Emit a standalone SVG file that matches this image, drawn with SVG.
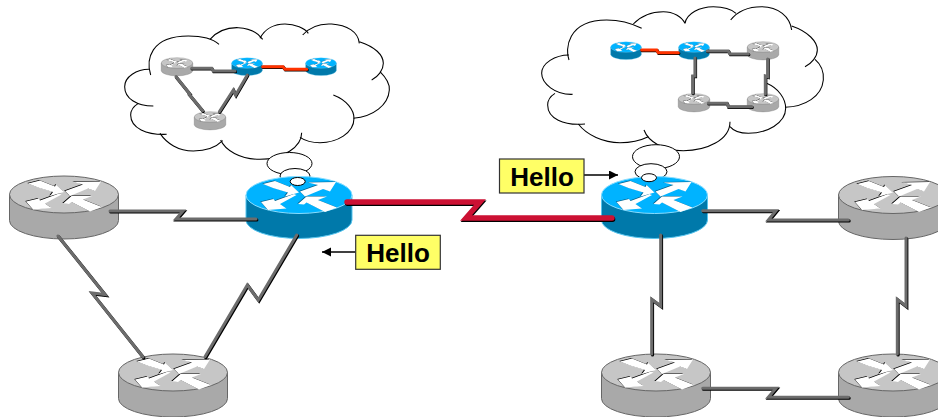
<svg xmlns="http://www.w3.org/2000/svg" width="938" height="417" viewBox="0 0 938 417">
<style>
.lo{fill:none;stroke:#000;stroke-width:3.2}
.bub{fill:#fff;stroke:#000;stroke-width:1}
.ls,.lg,.rs,.rr,.or,.os{fill:none;stroke-linejoin:miter;stroke-linecap:round}
.ls{stroke:#000;stroke-width:3.2;transform:translate(.8px,.9px)}
.lg{stroke:#6c6c6c;stroke-width:3}
.rs{stroke:#000;stroke-width:5.4;transform:translate(.6px,1.2px)}
.rr{stroke:#cc1133;stroke-width:5.4}
.os{stroke:#000;stroke-width:3.2;transform:translate(.5px,.7px)}
.or{stroke:#ff3300;stroke-width:3}
.box{fill:#ffff66;stroke:#333;stroke-width:1.2}
.t{font:bold 26px "Liberation Sans",Arial,sans-serif;fill:#000;text-anchor:middle}
.ar{stroke:#000;stroke-width:1.5;fill:none;marker-end:url(#ah)}
.gs{fill:#a9a9a9;stroke:#666;stroke-width:1}
.gt{fill:#c6c6c6;stroke:#666;stroke-width:1}
.bs{fill:#0079aa;stroke:#55c4ee;stroke-width:1}
.bt{fill:#00b3ff;stroke:#88ddff;stroke-width:1}
.sg{fill:#000}
.sb{fill:#00608c}
.w{fill:#fff}
</style>
<defs>
<marker id="ah" markerUnits="userSpaceOnUse" markerWidth="10" markerHeight="10" refX="9" refY="4.5" orient="auto"><path d="M0 0L9 4.5L0 9Z" fill="#000"/></marker>
<g id="arrows">
<path d="M-36-11L-24-14L-9-8L-8-10L0-2.5L-14 1.5L-11-2.5L-26-7Z"/>
<path d="M37-13L9-12.5L19-10L1-3.5L6 1.5L24-6L31-3.5Z"/>
<path d="M-38 7L-25.5 4L-24 6L-5-1L-2.5 0L-19 9L-12.5 13.5L-31 15Z"/>
<path d="M-1 9L7.5 1.5L28 1.5L19 5L38 12.5L26 17L7.5 7.5L5 9.5Z"/>
</g>
<g id="rg">
<path class="gs" d="M-54.5 0V26A54.5 18.5 0 0 0 54.5 26V0Z"/>
<ellipse rx="54.5" ry="18.5" class="gt"/>
<use href="#arrows" class="sg" transform="translate(-.8,-.5)"/>
<use href="#arrows" class="w"/>
</g>
<g id="rb">
<path class="bs" d="M-53 0V25A53 18.5 0 0 0 53 25V0Z"/>
<ellipse rx="53" ry="18.5" class="bt"/>
<use href="#arrows" class="sb" transform="translate(-.8,-.5)"/>
<use href="#arrows" class="w"/>
</g>
</defs>

<g id="cloud-left">
<g transform="translate(120,0) scale(.33333)">
<path class="lo" d="M92 225C78 180 90 108 205 108C245 108 280 118 297 133"/>
<path class="lo" d="M270 118C295 90 325 82 355 83C390 85 415 100 428 118"/>
<path class="lo" d="M420 115C435 85 465 72 495 72C525 72 555 85 565 100"/>
<path class="lo" d="M548 105C570 80 600 70 635 72C680 75 715 95 718 130"/>
<path class="lo" d="M718 125C765 140 790 165 790 190C790 210 775 230 755 240"/>
<path class="lo" d="M780 215C800 235 810 250 808 270C805 315 760 350 700 355"/>
<path class="lo" d="M640 285C680 300 702 330 702 355C702 400 650 428 600 428C575 428 555 422 540 412"/>
<path class="lo" d="M545 398C545 440 490 478 420 478C360 478 315 450 302 420"/>
<path class="lo" d="M308 422C285 445 255 453 220 453C175 453 140 430 120 400"/>
<path class="lo" d="M140 403C80 405 32 385 32 345C32 330 42 318 55 310"/>
<path class="lo" d="M100 318C50 318 14 295 14 260C14 230 50 208 87 208"/>
</g>
<ellipse class="bub" cx="289.5" cy="163.5" rx="22.5" ry="11"/>
<ellipse class="bub" cx="295" cy="176" rx="15" ry="7.5"/>
</g>

<g id="cloud-right">
<g transform="translate(500,0) scale(.33333)">
<path class="lo" d="M207 180C195 150 200 60 320 60C360 60 395 70 425 85"/>
<path class="lo" d="M400 72C425 45 460 35 490 35C520 35 545 50 555 70"/>
<path class="lo" d="M555 70C560 40 600 20 640 20C670 20 695 28 708 40"/>
<path class="lo" d="M692 60C715 30 750 20 785 20C835 20 870 50 875 90"/>
<path class="lo" d="M875 78C925 95 952 125 952 150C952 170 935 190 915 200"/>
<path class="lo" d="M945 178C965 195 972 215 970 240C965 290 915 320 855 322"/>
<path class="lo" d="M800 250C835 265 857 295 857 325C857 370 800 400 745 400C720 400 700 392 690 380"/>
<path class="lo" d="M690 365C690 420 620 452 550 452C490 452 445 425 432 390"/>
<path class="lo" d="M445 410C420 422 390 428 360 428C310 428 260 405 235 372"/>
<path class="lo" d="M255 372C190 378 143 355 143 315C143 300 152 288 165 280"/>
<path class="lo" d="M218 283C165 285 125 250 125 220C125 190 165 165 207 165"/>
</g>
<ellipse class="bub" cx="656" cy="156.7" rx="23.5" ry="12"/>
<ellipse class="bub" cx="651" cy="171.7" rx="16" ry="8"/>
</g>

<g id="router-left"><use href="#rg" x="64" y="194.5"/></g>
<g id="router-hub-left"><use href="#rb" x="299" y="195"/><ellipse class="bub" cx="297.7" cy="181.5" rx="7.5" ry="4"/></g>
<g id="router-bottom-left"><use href="#rg" x="173" y="372.5"/></g>
<g id="router-hub-right"><use href="#rb" x="654.5" y="195"/><ellipse class="bub" cx="649" cy="177.7" rx="7.5" ry="4"/></g>
<g id="router-right-top"><use href="#rg" x="893" y="195"/></g>
<g id="router-right-bottom"><use href="#rg" x="893" y="372.5"/></g>
<g id="router-bottom-mid"><use href="#rg" x="656" y="372.5"/></g>

<g id="mini-left-a"><use href="#rg" transform="translate(177,63) scale(.29)"/></g>
<g id="mini-left-b"><use href="#rb" transform="translate(247,63) scale(.29)"/></g>
<g id="mini-left-c"><use href="#rb" transform="translate(321,63) scale(.29)"/></g>
<g id="mini-left-d"><use href="#rg" transform="translate(210,117) scale(.29)"/></g>
<g id="mini-right-a"><use href="#rb" transform="translate(626,47) scale(.29)"/></g>
<g id="mini-right-b"><use href="#rb" transform="translate(694,47) scale(.29)"/></g>
<g id="mini-right-c"><use href="#rg" transform="translate(763,47) scale(.29)"/></g>
<g id="mini-right-d"><use href="#rg" transform="translate(694,99) scale(.29)"/></g>
<g id="mini-right-e"><use href="#rg" transform="translate(763,99) scale(.29)"/></g>

<g id="connectors">
<path class="ls" d="M110 211H183L176 219H256"/><path class="lg" d="M110 211H183L176 219H256"/>
<path class="ls" d="M58 236L105 294.5L92 293L143 357"/><path class="lg" d="M58 236L105 294.5L92 293L143 357"/>
<path class="ls" d="M296.7 235L258.3 300L247.3 285L205 356.7"/><path class="lg" d="M296.7 235L258.3 300L247.3 285L205 356.7"/>
<path class="rs" d="M347 202H480L466 218H612"/><path class="rr" d="M347 202H480L466 218H612"/>
<path class="ls" d="M702.7 210.7H776L768.3 220H848.3"/><path class="lg" d="M702.7 210.7H776L768.3 220H848.3"/>
<path class="ls" d="M660.7 235V306L651.7 299.3V354"/><path class="lg" d="M660.7 235V306L651.7 299.3V354"/>
<path class="ls" d="M906 238V306L897.3 299.3V354"/><path class="lg" d="M906 238V306L897.3 299.3V354"/>
<path class="ls" d="M702.7 388.3H776L768.3 397.3H848.3"/><path class="lg" d="M702.7 388.3H776L768.3 397.3H848.3"/>
<path class="os" d="M191.7 68.3H211.7L213.3 71H235"/><path class="lg" d="M191.7 68.3H211.7L213.3 71H235"/>
<path class="os" d="M176 76.7L190.7 95L188.3 93.3L202.7 110.7"/><path class="lg" d="M176 76.7L190.7 95L188.3 93.3L202.7 110.7"/>
<path class="os" d="M247.3 75L235.7 95L233.3 90L219.3 111.7"/><path class="lg" d="M247.3 75L235.7 95L233.3 90L219.3 111.7"/>
<path class="os" d="M262.7 66.7H283L285 69.3H306.7"/><path class="or" d="M262.7 66.7H283L285 69.3H306.7"/>
<path class="os" d="M641.7 50H656.7L658.3 52.7H678.3"/><path class="or" d="M641.7 50H656.7L658.3 52.7H678.3"/>
<path class="os" d="M707.3 51H728.3L730 54H748.3"/><path class="lg" d="M707.3 51H728.3L730 54H748.3"/>
<path class="os" d="M695 58V76L692.7 76V93"/><path class="lg" d="M695 58V76L692.7 76V93"/>
<path class="os" d="M767.7 59V76.7L765.3 76V94"/><path class="lg" d="M767.7 59V76.7L765.3 76V94"/>
<path class="os" d="M708.3 103.3H727L728.3 106.7H751.7"/><path class="lg" d="M708.3 103.3H727L728.3 106.7H751.7"/>
</g>

<g id="hello-left">
<path class="ar" d="M355.7 252H322"/>
<rect class="box" x="355.7" y="235.3" width="84.6" height="34"/>
<text class="t" x="398" y="262">Hello</text>
</g>
<g id="hello-right">
<path class="ar" d="M584 175H618"/>
<rect class="box" x="499.5" y="159" width="84.5" height="34"/>
<text class="t" x="542" y="186">Hello</text>
</g>
</svg>
